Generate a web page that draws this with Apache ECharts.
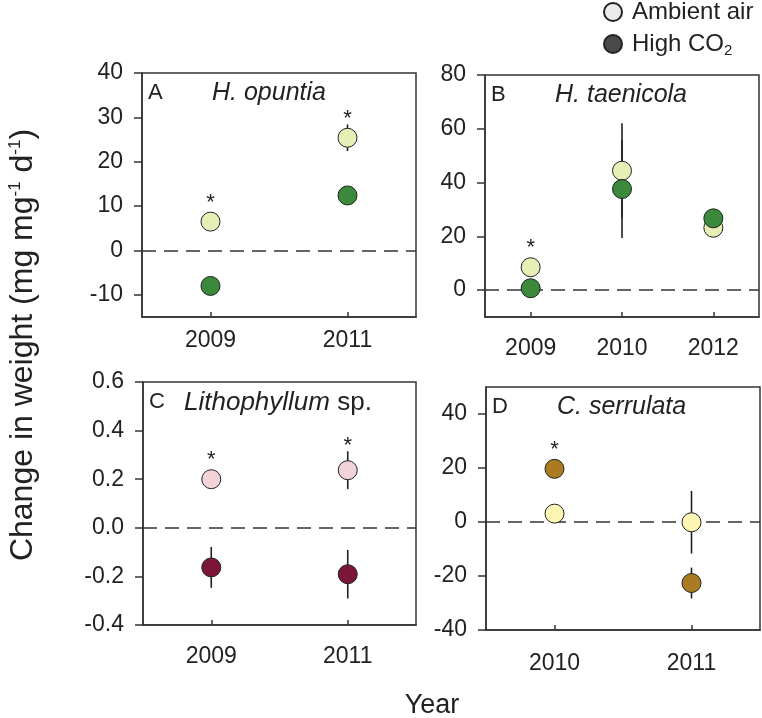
<!DOCTYPE html>
<html><head><meta charset="utf-8">
<script src="https://cdn.jsdelivr.net/npm/echarts@6/dist/echarts.min.js"></script>
<style>html,body{margin:0;padding:0;background:#fff}#c{width:762px;height:718px}</style>
</head><body><div id="c"></div><script>
// Panel A: H. opuntia
const yearsA = ['2009', '2011'];
const ambientA = [6.5, 25.4];
const ambientErrA = [0, 3.0];
const highA = [-8.0, 12.4];
const highErrA = [0, 0];
const sigA = [1, 1];
const yTicksA = [-10, 0, 10, 20, 30, 40];
// Panel B: H. taenicola
const yearsB = ['2009', '2010', '2012'];
const ambientB = [8.5, 44.4, 23.2];
const ambientErrB = [0, 17.7, 0];
const highB = [0.7, 37.6, 26.7];
const highErrB = [0, 18.2, 0];
const sigB = [1, 0, 0];
const yTicksB = [0, 20, 40, 60, 80];
// Panel C: Lithophyllum sp.
const yearsC = ['2009', '2011'];
const ambientC = [0.20, 0.237];
const ambientErrC = [0, 0.078];
const highC = [-0.163, -0.191];
const highErrC = [0.084, 0.10];
const sigC = [1, 1];
const yTicksC = [-0.4, -0.2, 0.0, 0.2, 0.4, 0.6];
// Panel D: C. serrulata
const yearsD = ['2010', '2011'];
const ambientD = [3.1, -0.1];
const ambientErrD = [0, 11.6];
const highD = [19.7, -22.6];
const highErrD = [0, 5.7];
const sigD = [1, 0];
const yTicksD = [-40, -20, 0, 20, 40];

const panels = [
  {id:'A', years:yearsA, amb:ambientA, ambErr:ambientErrA, high:highA, highErr:highErrA, sig:sigA, ticks:yTicksA, min:-15, max:40,
   grid:{left:142, top:73, width:274, height:244}, ambColor:'#e5efb6', highColor:'#3b8a3c', xMargin:12, dec:0, highOnTop:true},
  {id:'B', years:yearsB, amb:ambientB, ambErr:ambientErrB, high:highB, highErr:highErrB, sig:sigB, ticks:yTicksB, min:-10, max:80,
   grid:{left:485, top:75, width:274, height:242}, ambColor:'#e5efb6', highColor:'#3b8a3c', xMargin:20, dec:0, highOnTop:true},
  {id:'C', years:yearsC, amb:ambientC, ambErr:ambientErrC, high:highC, highErr:highErrC, sig:sigC, ticks:yTicksC, min:-0.4, max:0.6,
   grid:{left:143, top:382, width:273, height:243}, ambColor:'#f2d3d7', highColor:'#7c1637', xMargin:20, dec:1, highOnTop:true},
  {id:'D', years:yearsD, amb:ambientD, ambErr:ambientErrD, high:highD, highErr:highErrD, sig:sigD, ticks:yTicksD, min:-40, max:50,
   grid:{left:486, top:387, width:274, height:243}, ambColor:'#fdf5b4', highColor:'#ab7b22', xMargin:22, dec:0, highOnTop:false}
];

const AX = '#333';
const TXT = '#222';
const FONT = 'Liberation Sans, Arial, sans-serif';

const grids = [], xAxes = [], yAxes = [], series = [], graphics = [];

panels.forEach((p, gi) => {
  grids.push(Object.assign({show:true, borderColor:AX, borderWidth:1.5, backgroundColor:'transparent'}, p.grid));
  xAxes.push({type:'category', gridIndex:gi, data:p.years, boundaryGap:true,
    axisLine:{show:true, onZero:false, lineStyle:{color:AX, width:1.5}},
    axisTick:{show:true, inside:true, length:5, alignWithLabel:true, lineStyle:{color:AX, width:1.5}},
    axisLabel:{fontSize:23, color:TXT, fontFamily:FONT, margin:p.xMargin},
    splitLine:{show:false}});
  yAxes.push({type:'value', gridIndex:gi, min:p.min, max:p.max,
    axisLine:{show:true, onZero:false, lineStyle:{color:AX, width:1.5}},
    axisTick:{show:true, inside:false, length:8, customValues:p.ticks, lineStyle:{color:AX, width:1.5}},
    axisLabel:{fontSize:23, color:TXT, fontFamily:FONT, margin:19, customValues:p.ticks,
      formatter: v => p.dec ? v.toFixed(p.dec) : String(Math.round(v))},
    splitLine:{show:false}});

  // zero dashed line (below the points)
  series.push({type:'line', xAxisIndex:gi, yAxisIndex:gi, data:[], silent:true, z:1,
    markLine:{silent:true, z:1, symbol:['none','none'], label:{show:false},
      lineStyle:{color:AX, type:[14,8], width:1.5}, data:[{yAxis:0}]}});

  // error bars
  const errData = [];
  p.years.forEach((y, i) => {
    errData.push([i, p.amb[i], p.ambErr[i]]);
    errData.push([i, p.high[i], p.highErr[i]]);
  });
  series.push({type:'custom', xAxisIndex:gi, yAxisIndex:gi, data:errData, z:2, silent:true,
    renderItem:(params, api) => {
      const e = api.value(2);
      if (!e) return null;
      const top = api.coord([api.value(0), api.value(1) + e]);
      const bot = api.coord([api.value(0), api.value(1) - e]);
      return {type:'line', shape:{x1:top[0], y1:top[1], x2:bot[0], y2:bot[1]}, style:{stroke:'#222', lineWidth:1.6}};
    }});

  // points
  const pointStyle = c => ({color:c, borderColor:'#222', borderWidth:1, opacity:1});
  const ambSeries = {type:'scatter', xAxisIndex:gi, yAxisIndex:gi, data:p.amb.map((v,i)=>[i,v]), symbolSize:19, itemStyle:pointStyle(p.ambColor), silent:true};
  const highSeries = {type:'scatter', xAxisIndex:gi, yAxisIndex:gi, data:p.high.map((v,i)=>[i,v]), symbolSize:19, itemStyle:pointStyle(p.highColor), silent:true};
  if (p.highOnTop) { ambSeries.z = 3; highSeries.z = 4; } else { ambSeries.z = 4; highSeries.z = 3; }
  series.push(ambSeries, highSeries);

  // significance asterisks
  const sigData = p.years.map((y, i) => [i, p.amb[i], p.ambErr[i], p.high[i], p.highErr[i], p.sig[i]]);
  series.push({type:'custom', xAxisIndex:gi, yAxisIndex:gi, data:sigData, z:5, silent:true,
    renderItem:(params, api) => {
      if (!api.value(5)) return null;
      const x = api.value(0);
      const ptTop = Math.min(api.coord([x, api.value(1)])[1], api.coord([x, api.value(3)])[1]);
      const errTop = Math.min(api.coord([x, api.value(1) + api.value(2)])[1], api.coord([x, api.value(3) + api.value(4)])[1]);
      const cy = Math.min(ptTop - 24, errTop - 10);
      const cx = api.coord([x, api.value(1)])[0];
      return {type:'text', style:{text:'*', x:cx, y:cy + 5, align:'center', verticalAlign:'middle', fontSize:22, fill:'#222', fontFamily:FONT}};
    }});

  // panel letter
  graphics.push({type:'text', left:p.grid.left + 6, top:p.grid.top + 9,
    style:{text:p.id, fontSize:22, fill:TXT, fontFamily:FONT}});
});

// species names
graphics.push({type:'text', left:212, top:81, style:{text:'H. opuntia', fontSize:25, fontStyle:'italic', fill:TXT, fontFamily:FONT}});
graphics.push({type:'text', left:555, top:83, style:{text:'H. taenicola', fontSize:25, fontStyle:'italic', fill:TXT, fontFamily:FONT}});
graphics.push({type:'text', left:184, top:390, style:{text:'{i|Lithophyllum} {n|sp.}', fill:TXT,
  rich:{i:{fontSize:26, fontStyle:'italic', fontFamily:FONT, fill:TXT}, n:{fontSize:26, fontFamily:FONT, fill:TXT, padding:[0,0,0,4]}}}});
graphics.push({type:'text', left:557, top:395, style:{text:'C. serrulata', fontSize:25, fontStyle:'italic', fill:TXT, fontFamily:FONT}});

// y axis title
graphics.push({type:'text', x:23, y:345, rotation:Math.PI/2,
  style:{text:'Change in weight (mg mg{sup|-1} d{sup|-1})', align:'center', verticalAlign:'middle', fontSize:32, fill:TXT, fontFamily:FONT,
    rich:{sup:{fontSize:17, fontFamily:FONT, fill:TXT, verticalAlign:'top', padding:[0,0,15,0]}}}});
// x axis title
graphics.push({type:'text', x:432, y:706, style:{text:'Year', align:'center', verticalAlign:'middle', fontSize:27, fill:TXT, fontFamily:FONT}});

// legend dummy series
series.push({type:'scatter', name:'Ambient air', xAxisIndex:0, yAxisIndex:0, data:[], itemStyle:{color:'#ebebeb', borderColor:'#222', borderWidth:1, opacity:1}});
series.push({type:'scatter', name:'High CO2', xAxisIndex:0, yAxisIndex:0, data:[], itemStyle:{color:'#4a4a4a', borderColor:'#222', borderWidth:1, opacity:1}});

const chart = echarts.init(document.getElementById('c'), null, {renderer:'canvas'});
chart.setOption({
  backgroundColor:'#fff',
  animation:false,
  grid:grids, xAxis:xAxes, yAxis:yAxes, series:series,
  legend:{orient:'vertical', left:603, top:0, padding:0, itemWidth:18, itemHeight:18, itemGap:8, icon:'circle',
    selectedMode:false,
    data:['Ambient air', 'High CO2'],
    formatter: n => n === 'High CO2' ? 'High CO{sub|2}' : n,
    textStyle:{fontSize:24, lineHeight:24, color:TXT, fontFamily:FONT, padding:[0,0,0,5],
      rich:{sub:{fontSize:15, color:TXT, fontFamily:FONT, padding:[14,0,0,0]}}}},
  graphic:graphics
});
</script></body></html>
